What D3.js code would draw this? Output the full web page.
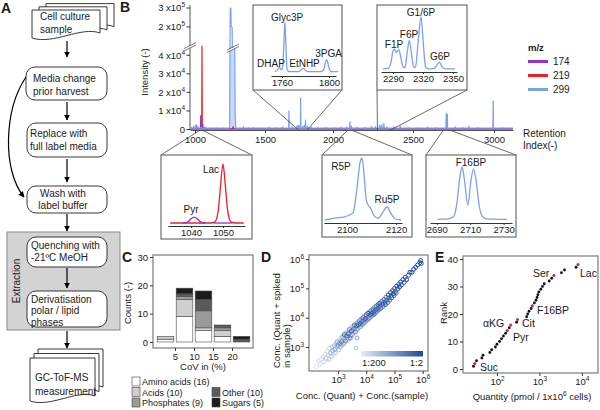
<!DOCTYPE html>
<html><head><meta charset="utf-8">
<script src="https://cdn.jsdelivr.net/npm/d3@7/dist/d3.min.js"></script>
<style>
html,body{margin:0;padding:0;background:#fff;}
svg{display:block;}
text{font-family:"Liberation Sans",Arial,Helvetica,sans-serif;fill:#1a1a1a;}
</style></head><body>
<svg id="fig" width="600" height="410" viewBox="0 0 600 410"></svg>
<script>
// ================= DATA =================
// Panel A
const docLabels = [["Cell culture","sample"],["GC-ToF-MS","measurement"]];
const stepLabels = [["Media change","prior harvest"],["Replace with","full label media"],["Wash with","label buffer"],["Quenching with","-21ºC MeOH"],["Derivatisation","polar / lipid","phases"]];
const extractionLabel = "Extraction";

// Panel B (retention index, intensity)
const riTicks = [1000,1500,2000,2500,3000];
const intensityLowTicks = [0,10000,20000,30000,40000];
const intensityHighTicks = [200000,300000];
const mzChannels = ["174","219","299"];
const mzColors = ["#9232c9","#ec1f25","#7ba1e8"];
// peaks: [RI, intensity, half width]
const peaks174 = [[1041,7500,2],[1047,2000,2],[1056,2800,2],[1065,1200,2]];
const peaks219 = [[1050,45000,2],[1272,1500,6],[2106,700,3],[2995,1800,2]];
const peaks299 = [[975,1200,3],[990,1800,2],[1003,2200,2],[1012,2600,2],[1022,1500,3],[1040,1100,3],[1075,1300,3],[1110,900,3],[1160,1000,3],[1200,900,3],
  [1345,1600,3],[1380,1000,3],[1420,1200,3],[1465,900,3],[1530,1300,3],[1580,1100,3],[1630,1400,3],[1676,10000,2],[1700,1500,3],[1735,2000,2],[1745,2400,2],
  [1757,2000,1.5],[1762,17000,1.5],[1778,1800,2],[1790,2400,2],[1798,5000,1.5],[1812,1800,2],[1840,1400,3],[1890,1100,3],[1950,1200,3],[2010,1000,3],[2050,1400,3],
  [2085,1300,3],[2106,4300,2],[2116,1800,2],[2150,1400,3],[2200,1200,3],[2240,1700,3],[2265,1500,3],[2291,2200,1.5],[2296,2000,1.5],[2306,2600,1.5],[2318,3300,1.5],
  [2336,1400,2],[2380,1500,3],[2420,2000,2],[2470,1100,3],[2530,1000,3],[2590,1300,3],[2640,1100,3],[2705,8700,2],[2712,8200,2],[2760,1500,3],[2810,1000,3],
  [2845,1800,2],[2900,1100,3],[2995,15500,2],[3050,1000,3],[3090,900,3]];
// saturated peak near RI 1255 (profile)
const bigPeak299 = [[1247,700],[1250,44000],[1252,300000],[1256,300000],[1258,205000],[1265,198000],[1267,44500],[1284,44000],[1287,8000],[1292,700]];
// inset traces [RI, intensity]
const insetLac219 = [[1033.5,0],[1046,0],[1047.5,0.02],[1048.5,0.2],[1049.2,0.6],[1050,1],[1050.8,0.6],[1051.5,0.2],[1052.5,0.02],[1054,0],[1056.5,0]];
const insetPyr174 = [[1037.5,0],[1039,0.02],[1040,0.07],[1041,0.1],[1042,0.07],[1043,0.02],[1044.5,0]];
const insetLacBase174 = [[1047,0],[1053,0]];
const insetGlyc299 = [[1754,300],[1756,800],[1757.8,1800],[1759.2,900],[1760.5,1500],[1761.5,9000],[1762.4,17000],[1763.3,9000],[1764.3,1200],[1766,300],[1774,300],[1776,800],[1778,1400],[1780,800],[1782,300],[1793,300],[1795.5,1000],[1797,3300],[1798,4300],[1799,3300],[1800.5,900],[1802,300],[1808,300]];
const insetG6P299 = [[2280,0.02],[2285,0.03],[2288,0.15],[2290,0.36],[2291.3,0.40],[2293,0.33],[2294.5,0.36],[2296,0.38],[2298,0.22],[2300,0.06],[2302,0.04],[2304,0.3],[2306.3,0.56],[2308.5,0.3],[2310.5,0.06],[2312.5,0.05],[2315,0.5],[2318,1.0],[2320.5,0.45],[2322.5,0.06],[2325,0.02],[2331,0.03],[2333.5,0.08],[2336.3,0.15],[2339,0.06],[2342,0.02],[2352,0.02]];
const insetR5P299 = [[2091,0],[2095,0.03],[2099,0.05],[2101,0.08],[2102.5,0.12],[2104,0.5],[2105.3,0.93],[2106.1,1.0],[2107,0.7],[2107.8,0.33],[2108.5,0.25],[2109.5,0.2],[2111,0.07],[2112.7,0.03],[2114.5,0.12],[2116.3,0.21],[2118,0.1],[2119.5,0.02],[2122,0]];
const insetF16BP299 = [[2690.5,0.01],[2697,0.02],[2700,0.06],[2702,0.3],[2703.8,0.8],[2705.2,1.0],[2706.6,0.75],[2708.6,0.28],[2710.5,0.75],[2712,0.96],[2713.5,0.75],[2715.5,0.25],[2717.5,0.06],[2720,0.02],[2732,0.01]];

// Panel C (CoV histogram, stacked counts)
const covBinStart = [0,5,10,15,20];
const covTicks = [5,10,15,20];
const countTicks = [0,10,20,30];
const classNames = ["Amino acids","Acids","Phosphates","Other","Sugars"];
const classTotals = [16,10,9,10,5];
const classColors = ["#ffffff","#cfcfcf","#9a9a9a","#5a5a5a","#1c1c1c"];
const aminoAcids = [1,9,4,2,0];
const acids      = [1,6,1,2,0];
const phosphates = [0,1,6,1,0];
const other      = [0,1,4,1,1];
const sugars     = [0,2,3,0,1];

// Panel D: [log10 Conc.(Quant)+Conc.(sample), log10 Conc.(Quant+spiked), dilution level 0 = 1:200 ... 1 = 1:2]
const dPoints = [
 [2.22,2.33,0.05],[2.3,2.52,0.08],[2.36,2.42,0.1],[2.42,2.6,0.06],[2.47,2.66,0.12],[2.5,2.5,0.15],[2.55,2.75,0.08],[2.58,2.62,0.2],
 [2.62,2.85,0.1],[2.65,2.72,0.15],[2.68,2.58,0.25],[2.7,2.95,0.12],[2.73,2.8,0.3],[2.76,2.68,0.2],[2.78,3.0,0.15],[2.8,2.88,0.35],
 [2.83,2.75,0.1],[2.86,3.05,0.25],[2.88,2.92,0.45],[2.9,2.8,0.2],[2.93,3.1,0.3],[2.95,2.98,0.15],[2.97,3.18,0.4],[3.0,3.05,0.55],
 [3.02,2.9,0.25],[3.04,3.22,0.2],[3.06,3.12,0.6],[3.08,3.0,0.35],[3.1,3.3,0.15],[3.12,3.18,0.7],[3.14,3.06,0.3],[3.16,3.35,0.45],
 [3.18,3.25,0.2],[3.2,3.12,0.5],[3.22,3.42,0.8],[3.24,3.3,0.3],[3.26,3.2,0.6],[3.28,3.48,0.25],[3.3,3.38,0.75],[3.32,3.25,0.4],
 [3.34,3.55,0.2],[3.36,3.45,0.85],[3.38,3.33,0.35],[3.4,3.6,0.55],[3.42,3.5,0.3],[3.43,3.3,0.7],[3.44,3.38,0.45],[3.46,3.65,0.2],
 [3.48,3.55,0.9],[3.5,3.42,0.5],[3.52,3.7,0.35],[3.54,3.6,0.65],[3.56,3.48,0.25],[3.58,3.75,0.8],[3.6,3.65,0.4],[3.62,3.52,0.6],
 [3.64,2.97,0.3],[3.65,3.8,0.3],[3.66,3.72,0.9],[3.67,3.31,0.45],[3.68,3.6,0.55],[3.7,3.85,0.4],[3.72,3.76,0.75],[3.74,3.66,0.3],
 [3.76,3.9,0.6],[3.78,3.8,0.95],[3.8,3.7,0.45],[3.82,3.95,0.35],[3.84,3.86,0.7],[3.86,3.76,0.55],[3.88,4.0,0.85],[3.9,3.92,0.4],
 [3.92,3.82,0.65],[3.94,4.05,0.3],[3.96,3.96,0.9],[3.98,3.88,0.5],[4.0,4.1,0.75],[4.02,4.0,0.45],[4.04,3.92,0.6],[4.06,4.15,0.95],
 [4.08,4.06,0.35],[4.1,3.98,0.7],[4.12,4.2,0.55],[4.14,4.1,0.85],[4.16,4.02,0.4],[4.18,4.25,0.65],[4.2,4.15,0.9],[4.22,4.08,0.5],
 [4.24,4.3,0.75],[4.26,4.2,0.6],[4.28,4.12,0.95],[4.3,4.36,0.45],[4.32,4.26,0.8],[4.34,4.18,0.55],[4.36,4.4,0.7],[4.38,4.3,0.9],
 [4.4,4.22,0.6],[4.42,4.45,0.85],[4.44,4.35,0.5],[4.46,4.28,0.75],[4.48,4.5,0.95],[4.5,4.4,0.65],[4.52,4.33,0.8],[4.55,4.56,0.7],
 [4.58,4.46,0.9],[4.6,4.38,0.6],[4.63,4.62,0.85],[4.66,4.52,0.75],[4.68,4.45,0.95],[4.7,4.7,0.65],[4.73,4.6,0.9],[4.76,4.52,0.8],
 [4.78,4.78,1.0],[4.8,4.68,0.7],[4.83,4.6,0.85],[4.86,4.86,0.95],[4.88,4.75,0.75],[4.9,4.68,0.9],[4.93,4.93,0.8],[4.96,4.82,1.0],
 [4.98,4.76,0.85],[5.0,5.0,0.9],[5.03,4.9,0.95],[5.06,4.84,0.8],[5.08,5.08,1.0],[5.12,4.98,0.9],[5.15,5.15,0.85],[5.18,5.05,1.0],
 [5.22,5.22,0.95],[5.25,5.12,0.9],[5.3,5.3,1.0],[5.34,5.2,0.95],[5.38,5.38,0.9],[5.43,5.3,1.0],[5.5,5.45,0.95],[5.55,5.55,1.0],
 [5.62,5.55,0.95],[5.68,5.65,1.0],[5.75,5.72,0.95],[5.82,5.8,1.0],[5.9,5.88,1.0],[5.93,5.95,0.95],[5.95,5.85,1.0]];
const dTicks = [1e3,1e4,1e5,1e6];
const dilutionLabels = ["1:200","1:2"];

// Panel E (rank vs quantity)
const eRank = [1,2,3,4,5,6,7,8,9,10,11,12,13,14,15,16,17,18,19,20,21,22,23,24,25,26,27,28,29,30,31,32,33,34,35,36,37,38];
const eQuantity = [28,30,33,44,47,68,75,92,100,115,128,142,160,175,195,210,290,305,500,530,570,640,680,760,830,880,920,970,1080,1180,1300,1700,1950,2200,3300,3900,7300,8100];
const eLabelNames = ["Suc","Pyr","αKG","Cit","F16BP","Ser","Lac"];
const eLabelRanks = [2,14,16,18,23,34,38];
const eXTicks = [1e2,1e3,1e4];
const eYTicks = [0,10,20,30,40];

// ================= DRAWING =================
const svg = d3.select("#fig");
svg.append("rect").attr("width",600).attr("height",410).attr("fill","#fff");

function T(g,x,y,s,size,anchor,weight){
  return g.append("text").attr("x",x).attr("y",y).attr("font-size",size||10)
    .attr("text-anchor",anchor||"start").attr("font-weight",weight||"normal").text(s);
}
function sup(sel,base,exp,fs){
  sel.text(null);
  sel.append("tspan").text(base);
  sel.append("tspan").attr("font-size",fs*0.68).attr("dy",-fs*0.42).text(exp);
}
const defs = svg.append("defs");
defs.append("marker").attr("id","arr").attr("viewBox","0 0 10 10").attr("refX",9).attr("refY",5)
  .attr("markerWidth",6).attr("markerHeight",6).attr("markerUnits","userSpaceOnUse").attr("orient","auto")
  .append("path").attr("d","M0,0L10,5L0,10z").attr("fill","#000");

// panel letters
[["A",1,13],["B",120,12],["C",122,262],["D",261,262],["E",435,262]].forEach(([l,x,y])=>T(svg,x,y,l,14,"start","bold"));

// ---------- Panel A ----------
const gA = svg.append("g");
function docShape(x,y,w,h){return `M${x},${y}H${x+w}V${y+h-6}C${x+w*0.72},${y+h-13} ${x+w*0.32},${y+h+6} ${x},${y+h-1}Z`;}
function docStack(x,y,w,h,dx,dy,lines,tx,ty,lh){
  for(let i=2;i>=0;i--) gA.append("path").attr("d",docShape(x+dx*i,y+dy*i,w,h)).attr("fill","#fff").attr("stroke","#222").attr("stroke-width",0.9);
  lines.forEach((l,i)=>T(gA,tx,ty+i*lh,l,10));
}
function arrow(x,y1,y2){gA.append("line").attr("x1",x).attr("x2",x).attr("y1",y1).attr("y2",y2).attr("stroke","#000").attr("stroke-width",1.2).attr("marker-end","url(#arr)");}
function rbox(x,y,w,h,lines,tx,ty,lh,anchor){
  gA.append("rect").attr("x",x).attr("y",y).attr("width",w).attr("height",h).attr("rx",9).attr("fill","#fff").attr("stroke","#222").attr("stroke-width",0.9);
  lines.forEach((l,i)=>T(gA,tx,ty+i*lh,l,10,anchor||"start"));
}
docStack(32,10,68,29,7,-3.2,docLabels[0],40,20,13);
arrow(67,41,57);
rbox(26,67,81,33,stepLabels[0],33,81.5,13);
arrow(67,102,120);
rbox(27,123,80,34,stepLabels[1],30,137,13);
arrow(67,159,182);
rbox(27,186,80,27,stepLabels[2],63,197,11.5,"middle");
gA.append("path").attr("d","M26,77 C4,110 2,170 24,197").attr("fill","none").attr("stroke","#000").attr("stroke-width",1.2).attr("marker-end","url(#arr)");
arrow(67,214,231);
gA.append("rect").attr("x",7).attr("y",232).attr("width",113).attr("height",98).attr("fill","#d3d3d3").attr("stroke","#8a8a8a").attr("stroke-width",1);
T(gA,0,0,extractionLabel,10,"middle").attr("transform","translate(20,281) rotate(-90)");
rbox(27,237,80,30,stepLabels[3],31,249,12);
arrow(67,268,288);
rbox(27,291,80,36,stepLabels[4],31,302.5,11.5);
arrow(67,331,348);
docStack(30,358,65,44,4,-4.5,docLabels[1],35,381,14);

// ---------- Panel B ----------
const gB = svg.append("g");
const xB = d3.scaleLinear().domain([965,1000,1500,2000,2500,3000,3117]).range([190,195,265,333,413,494,513]);
const yB = d3.scaleLinear().domain([0,45000,100000,300000]).range([129.5,46,45.9,8]);
const gxB = gB.append("g").attr("transform","translate(0,130)")
  .call(d3.axisBottom(xB).tickValues(riTicks).tickSize(3).tickSizeOuter(0).tickFormat(d3.format("d")));
gxB.attr("font-size",9.5);
gxB.select(".domain").attr("stroke","#555");
gxB.selectAll(".tick line").attr("stroke","#333");
// y axis
gB.append("line").attr("x1",190).attr("x2",190).attr("y1",130).attr("y2",5).attr("stroke","#555");
intensityLowTicks.concat(intensityHighTicks).forEach(v=>{
  const y=yB(v);
  gB.append("line").attr("x1",186.5).attr("x2",190).attr("y1",y).attr("y2",y).attr("stroke","#333");
  const t=gB.append("text").attr("x",185).attr("y",y+3.3).attr("text-anchor","end").attr("font-size",9.5);
  if(v===0) t.text("0"); else {const e=Math.floor(Math.log10(v)+1e-9); sup(t,Math.round(v/Math.pow(10,e))+" x10",e,9.5);}
});
T(gB,0,0,"Intensity (-)",9.5,"middle").attr("transform","translate(148,72) rotate(-90)");
// traces
function buildTrace(peaks,base,extra){
  const pts=[[965,base],[3117,base]];
  peaks.forEach(([ri,h,w])=>pts.push([ri-w,base],[ri,h],[ri+w,base]));
  (extra||[]).forEach(p=>pts.push(p));
  return pts.sort((a,b)=>a[0]-b[0]);
}
const lineB = d3.line().x(d=>xB(d[0])).y(d=>yB(d[1]));
// light fill under the saturated peak
gB.append("path").attr("d",d3.area().x(d=>xB(d[0])).y0(yB(0)).y1(d=>yB(Math.min(d[1],45000)))(bigPeak299))
  .attr("fill",mzColors[2]).attr("opacity",0.4);
const traces = [[buildTrace(peaks219,300),mzColors[1]],[buildTrace(peaks174,300),mzColors[0]],[buildTrace(peaks299,700,bigPeak299),mzColors[2]]];
traces.forEach(([d,c])=>gB.append("path").attr("d",lineB(d)).attr("fill","none").attr("stroke",c).attr("stroke-width",1.2).attr("stroke-linejoin","round"));
// break marks
function brk(cx,cy){
  gB.append("path").attr("d",`M${cx-6},${cy+3.5}L${cx+6},${cy-2.5}L${cx+6},${cy-0.5}L${cx-6},${cy+5.5}Z`).attr("fill","#fff");
  [0,2.5].forEach(o=>gB.append("line").attr("x1",cx-6).attr("y1",cy+3+o).attr("x2",cx+6).attr("y2",cy-3+o).attr("stroke","#555").attr("stroke-width",0.8));
}
brk(190,45.5); brk(233,47);
// legend
T(gB,528,51,"m/z",9.5,"start","bold");
mzChannels.forEach((m,i)=>{
  gB.append("line").attr("x1",528).attr("x2",548).attr("y1",61.5+i*14).attr("y2",61.5+i*14).attr("stroke",mzColors[i]).attr("stroke-width",3);
  T(gB,553,65+i*14,m,10);
});
T(gB,523,137,"Retention",10); T(gB,523,149,"Index(-)",10);

// insets
function inset(c){
  const g=gB.append("g");
  const xs=d3.scaleLinear().domain(c.dom).range(c.rng);
  const ys=d3.scaleLinear().domain(c.yDom).range(c.yRng);
  const a=xB(c.dom[0]), b=xB(c.dom[1]);
  const [fx,fy,fw,fh]=c.frame;
  const cy = c.below ? fy : fy+fh;
  g.append("line").attr("x1",a).attr("y1",130.5).attr("x2",fx).attr("y2",cy).attr("stroke","#444").attr("stroke-width",0.8);
  g.append("line").attr("x1",b).attr("y1",130.5).attr("x2",fx+fw).attr("y2",cy).attr("stroke","#444").attr("stroke-width",0.8);
  g.append("rect").attr("x",fx).attr("y",fy).attr("width",fw).attr("height",fh).attr("fill","#fff").attr("stroke","#6f6f6f").attr("stroke-width",1.2);
  const ax=g.append("g").attr("transform",`translate(0,${c.axisY})`).call(d3.axisBottom(xs).tickValues(c.ticks).tickSize(2).tickPadding(1).tickSizeOuter(0).tickFormat(d3.format("d")));
  ax.attr("font-size",9.5); ax.select(".domain").attr("stroke","#333"); ax.selectAll(".tick line").attr("stroke","#333");
  const ln=d3.line().x(d=>xs(d[0])).y(d=>ys(d[1])).curve(d3.curveMonotoneX);
  c.traces.forEach(([d,col])=>g.append("path").attr("d",ln(d)).attr("fill","none").attr("stroke",col).attr("stroke-width",1.3));
  c.labels.forEach(([s,x,y])=>T(g,x,y,s,10,"middle"));
}
inset({frame:[253,5,89,85],dom:[1750.6,1806],rng:[271,336],axisY:76,ticks:[1760,1800],yDom:[0,17000],yRng:[72.5,22],
  traces:[[insetGlyc299,mzColors[2]]],labels:[["Glyc3P",287,21],["DHAP",271,67],["EtNHP",304.5,67],["3PGA",328.5,57]]});
inset({frame:[377,5,90,85],dom:[2278,2354],rng:[381,457],axisY:72,ticks:[2290,2320,2350],yDom:[0,1],yRng:[70,17],
  traces:[[insetG6P299,mzColors[2]]],labels:[["G1/6P",421,16],["F6P",409,38],["F1P",394,48],["G6P",440,60]]});
inset({frame:[161,155,91,84],dom:[1032.8,1056.9],rng:[168,245],axisY:226,ticks:[1040,1050],yDom:[0,1],yRng:[223,164],below:true,
  traces:[[insetLac219,mzColors[1]],[insetPyr174,mzColors[0]],[insetLacBase174,mzColors[0]]],labels:[["Lac",211,173],["Pyr",191,213]]});
inset({frame:[322,155,90,82],dom:[2090.6,2122.4],rng:[324,402],axisY:223,ticks:[2100,2120],yDom:[0,1],yRng:[220,158],below:true,
  traces:[[insetR5P299,mzColors[2]]],labels:[["R5P",341,170],["Ru5P",387,203]]});
inset({frame:[426,155,90,82],dom:[2686,2735],rng:[430,512],axisY:223,ticks:[2690,2710,2730],yDom:[0,1],yRng:[220,167],below:true,
  traces:[[insetF16BP299,mzColors[2]]],labels:[["F16BP",471,166]]});

// ---------- Panel C ----------
const gC = svg.append("g");
const xC = d3.scaleLinear().domain([0,25]).range([156,251]);
const yC = d3.scaleLinear().domain([0,30]).range([342,257]);
const rowsC = covBinStart.map((s,i)=>({s,"Amino acids":aminoAcids[i],"Acids":acids[i],"Phosphates":phosphates[i],"Other":other[i],"Sugars":sugars[i]}));
const stackC = d3.stack().keys(classNames)(rowsC);
stackC.forEach((layer,k)=>{
  gC.selectAll(null).data(layer.filter(d=>d[1]>d[0])).enter().append("rect")
    .attr("x",d=>xC(d.data.s)+1.2).attr("width",d=>xC(d.data.s+5)-xC(d.data.s)-2.4)
    .attr("y",d=>yC(d[1])).attr("height",d=>yC(d[0])-yC(d[1]))
    .attr("fill",classColors[k]).attr("stroke","#4a4a4a").attr("stroke-width",0.6);
});
gC.append("rect").attr("x",153).attr("y",255).attr("width",100).attr("height",93).attr("fill","none").attr("stroke","#858585").attr("stroke-width",1.3);
const cyAx=gC.append("g").attr("transform","translate(153,0)").call(d3.axisLeft(yC).tickValues(countTicks).tickSize(3).tickPadding(2));
const cxAx=gC.append("g").attr("transform","translate(0,348)").call(d3.axisBottom(xC).tickValues(covTicks).tickSize(3).tickPadding(2));
[cyAx,cxAx].forEach(a=>{a.attr("font-size",9.5);a.select(".domain").remove();a.selectAll(".tick line").attr("stroke","#333");});
T(gC,0,0,"Counts (-)",9.5,"middle").attr("transform","translate(131,303) rotate(-90)");
T(gC,203,370,"CoV in (%)",9.5,"middle");
classNames.forEach((n,i)=>{
  const col = i<3?0:1, row = i<3?i:i-2;
  const bx = col?212:132, by = 377+row*10.5;
  gC.append("rect").attr("x",bx).attr("y",by).attr("width",8).attr("height",9).attr("fill",classColors[i]).attr("stroke","#444").attr("stroke-width",0.6);
  T(gC,bx+10,by+8,`${n} (${classTotals[i]})`,9);
});

// ---------- Panel D ----------
const gD = svg.append("g");
const xD = d3.scaleLog().domain([Math.pow(10,1.968),Math.pow(10,6.19)]).range([309,428]);
const yD = d3.scaleLog().domain([Math.pow(10,2.18),Math.pow(10,6.14)]).range([371,255]);
const dColor = d3.scaleSequential(d3.interpolateRgb("#e4edf9","#1f4a9d")).domain([0,1]);
const dPts = dPoints.map(p=>({x:Math.pow(10,p[0]),y:Math.pow(10,p[1]),l:p[2]})).sort((a,b)=>a.l-b.l);
gD.selectAll(null).data(dPts).enter().append("circle")
  .attr("cx",d=>xD(d.x)).attr("cy",d=>yD(d.y)).attr("r",2)
  .attr("fill","none").attr("stroke",d=>dColor(d.l)).attr("stroke-width",1);
gD.append("rect").attr("x",309).attr("y",255).attr("width",119).attr("height",116).attr("fill","none").attr("stroke","#858585").attr("stroke-width",1.3);
const dyAx=gD.append("g").attr("transform","translate(309,0)").call(d3.axisLeft(yD).tickValues(dTicks).tickSize(3).tickPadding(2).tickFormat(""));
const dxAx=gD.append("g").attr("transform","translate(0,371)").call(d3.axisBottom(xD).tickValues(dTicks).tickSize(3).tickPadding(2).tickFormat(""));
[dyAx,dxAx].forEach(a=>{a.attr("font-size",9.5);a.select(".domain").remove();a.selectAll(".tick line").attr("stroke","#333");
  a.selectAll(".tick text").each(function(d){sup(d3.select(this),"10",Math.round(Math.log10(d)),9.5);});});
const grad = defs.append("linearGradient").attr("id","dgrad");
d3.range(0,1.01,0.25).forEach(t=>grad.append("stop").attr("offset",t).attr("stop-color",dColor(t)));
gD.append("rect").attr("x",361).attr("y",351).attr("width",62).attr("height",5.5).attr("fill","url(#dgrad)");
T(gD,362,366,dilutionLabels[0],9.5); T(gD,423,366,dilutionLabels[1],9.5,"end");
T(gD,362,399,"Conc. (Quant) + Conc.(sample)",9.5,"middle");
T(gD,0,0,"Conc. (Quant + spiked",9.5,"start").attr("transform","translate(280,368) rotate(-90)");
T(gD,0,0,"in sample)",9.5,"start").attr("transform","translate(290,368) rotate(-90)");

// ---------- Panel E ----------
const gE = svg.append("g");
const xE = d3.scaleLog().domain([Math.pow(10,1.2),Math.pow(10,4.38)]).range([463,598]);
const yE = d3.scaleLinear().domain([0,40]).range([369,259]);
const ePts = eRank.map((r,i)=>({r,q:eQuantity[i],hl:eLabelRanks.includes(r)}));
gE.selectAll(null).data(ePts.filter(d=>!d.hl)).enter().append("circle")
  .attr("cx",d=>xE(d.q)).attr("cy",d=>yE(d.r)).attr("r",1.4).attr("fill","#111");
gE.selectAll(null).data(ePts.filter(d=>d.hl)).enter().append("circle")
  .attr("cx",d=>xE(d.q)).attr("cy",d=>yE(d.r)).attr("r",1.5).attr("fill","#d21f3c");
gE.append("rect").attr("x",463).attr("y",256).attr("width",135).attr("height",117).attr("fill","none").attr("stroke","#858585").attr("stroke-width",1.3);
const eyAx=gE.append("g").attr("transform","translate(463,0)").call(d3.axisLeft(yE).tickValues(eYTicks).tickSize(3).tickPadding(2));
const exAx=gE.append("g").attr("transform","translate(0,373)").call(d3.axisBottom(xE).tickValues(eXTicks).tickSize(3).tickPadding(2).tickFormat(""));
[eyAx,exAx].forEach(a=>{a.attr("font-size",9.5);a.select(".domain").remove();a.selectAll(".tick line").attr("stroke","#333");});
exAx.selectAll(".tick text").each(function(d){sup(d3.select(this),"10",Math.round(Math.log10(d)),9.5);});
const eLabelPos = {"Suc":[480,371],"Pyr":[513,341],"αKG":[483,327],"Cit":[522,327],"F16BP":[537,314],"Ser":[533,277],"Lac":[580,277]};
eLabelNames.forEach(n=>T(gE,eLabelPos[n][0],eLabelPos[n][1],n,10.5));
T(gE,0,0,"Rank",9.5,"middle").attr("transform","translate(447,313) rotate(-90)");
const qt = T(gE,532,400,"",9.5,"middle");
qt.append("tspan").text("Quantity (pmol / 1x10");
qt.append("tspan").attr("font-size",6.5).attr("dy",-4).text("6");
qt.append("tspan").attr("dy",4).text(" cells)");
</script></body></html>
